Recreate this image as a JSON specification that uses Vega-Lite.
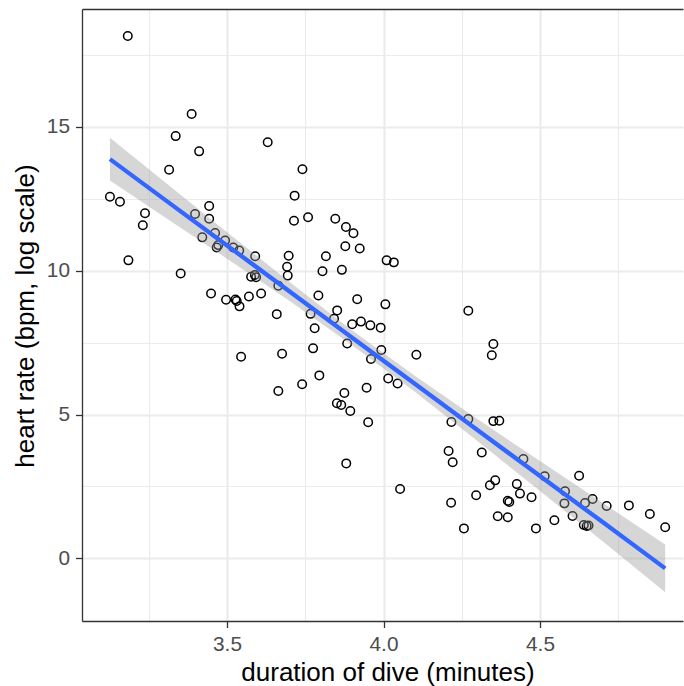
{
  "$schema": "https://vega.github.io/schema/vega-lite/v6.json",
  "width": 601,
  "height": 612,
  "autosize": "none",
  "padding": {"left": 82, "top": 9, "right": 1, "bottom": 65},
  "background": "white",
  "config": {"view": {"stroke": null}, "font": "Liberation Sans"},
  "datasets": {
    "dives": [
      {"duration": 3.183, "heart_rate": 18.16}, {"duration": 3.387, "heart_rate": 15.45}, {"duration": 3.336, "heart_rate": 14.68},
      {"duration": 3.411, "heart_rate": 14.15}, {"duration": 3.315, "heart_rate": 13.51}, {"duration": 3.126, "heart_rate": 12.57},
      {"duration": 3.158, "heart_rate": 12.40}, {"duration": 3.443, "heart_rate": 12.25}, {"duration": 3.238, "heart_rate": 12.00},
      {"duration": 3.398, "heart_rate": 11.97}, {"duration": 3.443, "heart_rate": 11.81}, {"duration": 3.231, "heart_rate": 11.58},
      {"duration": 3.421, "heart_rate": 11.16}, {"duration": 3.462, "heart_rate": 11.31}, {"duration": 3.494, "heart_rate": 11.05},
      {"duration": 3.472, "heart_rate": 10.89}, {"duration": 3.467, "heart_rate": 10.81}, {"duration": 3.520, "heart_rate": 10.81},
      {"duration": 3.539, "heart_rate": 10.70}, {"duration": 3.185, "heart_rate": 10.36}, {"duration": 3.352, "heart_rate": 9.90},
      {"duration": 3.449, "heart_rate": 9.21}, {"duration": 3.497, "heart_rate": 8.99}, {"duration": 3.527, "heart_rate": 9.00},
      {"duration": 3.531, "heart_rate": 8.95}, {"duration": 3.540, "heart_rate": 8.76}, {"duration": 3.545, "heart_rate": 7.01},
      {"duration": 3.630, "heart_rate": 14.47}, {"duration": 3.741, "heart_rate": 13.53}, {"duration": 3.716, "heart_rate": 12.61},
      {"duration": 3.714, "heart_rate": 11.74}, {"duration": 3.759, "heart_rate": 11.86}, {"duration": 3.846, "heart_rate": 11.81},
      {"duration": 3.880, "heart_rate": 11.52}, {"duration": 3.904, "heart_rate": 11.30}, {"duration": 3.878, "heart_rate": 10.85},
      {"duration": 3.924, "heart_rate": 10.77}, {"duration": 4.010, "heart_rate": 10.36}, {"duration": 4.033, "heart_rate": 10.29},
      {"duration": 3.816, "heart_rate": 10.50}, {"duration": 3.697, "heart_rate": 10.52}, {"duration": 3.692, "heart_rate": 10.14},
      {"duration": 3.694, "heart_rate": 9.83}, {"duration": 3.805, "heart_rate": 9.98}, {"duration": 3.867, "heart_rate": 10.03},
      {"duration": 3.590, "heart_rate": 10.50}, {"duration": 3.577, "heart_rate": 9.79}, {"duration": 3.589, "heart_rate": 9.85},
      {"duration": 3.593, "heart_rate": 9.77}, {"duration": 3.664, "heart_rate": 9.48}, {"duration": 3.570, "heart_rate": 9.10},
      {"duration": 3.609, "heart_rate": 9.21}, {"duration": 3.792, "heart_rate": 9.14}, {"duration": 3.916, "heart_rate": 9.01},
      {"duration": 4.006, "heart_rate": 8.83}, {"duration": 3.852, "heart_rate": 8.62}, {"duration": 3.842, "heart_rate": 8.33},
      {"duration": 3.767, "heart_rate": 8.50}, {"duration": 3.659, "heart_rate": 8.49}, {"duration": 3.900, "heart_rate": 8.14},
      {"duration": 3.928, "heart_rate": 8.23}, {"duration": 3.958, "heart_rate": 8.10}, {"duration": 3.991, "heart_rate": 8.02},
      {"duration": 3.780, "heart_rate": 8.00}, {"duration": 3.884, "heart_rate": 7.47}, {"duration": 3.775, "heart_rate": 7.30},
      {"duration": 3.676, "heart_rate": 7.11}, {"duration": 3.993, "heart_rate": 7.24}, {"duration": 3.960, "heart_rate": 6.93},
      {"duration": 4.105, "heart_rate": 7.08}, {"duration": 3.795, "heart_rate": 6.36}, {"duration": 3.740, "heart_rate": 6.05},
      {"duration": 3.664, "heart_rate": 5.82}, {"duration": 4.015, "heart_rate": 6.25}, {"duration": 4.045, "heart_rate": 6.08},
      {"duration": 3.946, "heart_rate": 5.93}, {"duration": 3.875, "heart_rate": 5.75}, {"duration": 3.851, "heart_rate": 5.39},
      {"duration": 3.865, "heart_rate": 5.33}, {"duration": 3.894, "heart_rate": 5.12}, {"duration": 3.951, "heart_rate": 4.73},
      {"duration": 4.217, "heart_rate": 4.74}, {"duration": 4.208, "heart_rate": 3.73}, {"duration": 3.881, "heart_rate": 3.30},
      {"duration": 4.053, "heart_rate": 2.41}, {"duration": 4.221, "heart_rate": 3.34}, {"duration": 4.216, "heart_rate": 1.93},
      {"duration": 4.257, "heart_rate": 1.04}, {"duration": 4.271, "heart_rate": 8.61}, {"duration": 4.351, "heart_rate": 7.45},
      {"duration": 4.346, "heart_rate": 7.06}, {"duration": 4.351, "heart_rate": 4.77}, {"duration": 4.370, "heart_rate": 4.78},
      {"duration": 4.271, "heart_rate": 4.84}, {"duration": 4.314, "heart_rate": 3.68}, {"duration": 4.447, "heart_rate": 3.45},
      {"duration": 4.515, "heart_rate": 2.85}, {"duration": 4.625, "heart_rate": 2.87}, {"duration": 4.357, "heart_rate": 2.71},
      {"duration": 4.340, "heart_rate": 2.54}, {"duration": 4.426, "heart_rate": 2.58}, {"duration": 4.436, "heart_rate": 2.25},
      {"duration": 4.473, "heart_rate": 2.12}, {"duration": 4.580, "heart_rate": 2.33}, {"duration": 4.296, "heart_rate": 2.19},
      {"duration": 4.397, "heart_rate": 2.00}, {"duration": 4.402, "heart_rate": 1.96}, {"duration": 4.578, "heart_rate": 1.91},
      {"duration": 4.644, "heart_rate": 1.92}, {"duration": 4.668, "heart_rate": 2.06}, {"duration": 4.713, "heart_rate": 1.82},
      {"duration": 4.784, "heart_rate": 1.84}, {"duration": 4.851, "heart_rate": 1.54}, {"duration": 4.900, "heart_rate": 1.08},
      {"duration": 4.365, "heart_rate": 1.46}, {"duration": 4.397, "heart_rate": 1.43}, {"duration": 4.546, "heart_rate": 1.32},
      {"duration": 4.604, "heart_rate": 1.47}, {"duration": 4.487, "heart_rate": 1.04}, {"duration": 4.640, "heart_rate": 1.16},
      {"duration": 4.649, "heart_rate": 1.12}, {"duration": 4.655, "heart_rate": 1.14}
    ],
    "fit": [
      {"duration": 3.126, "fitted": 13.88, "lower": 13.14, "upper": 14.62},
      {"duration": 3.3, "fitted": 12.48, "lower": 11.87, "upper": 13.09},
      {"duration": 3.5, "fitted": 10.88, "lower": 10.42, "upper": 11.34},
      {"duration": 3.7, "fitted": 9.28, "lower": 8.95, "upper": 9.61},
      {"duration": 3.9, "fitted": 7.67, "lower": 7.41, "upper": 7.92},
      {"duration": 4.1, "fitted": 6.07, "lower": 5.79, "upper": 6.35},
      {"duration": 4.3, "fitted": 4.46, "lower": 4.08, "upper": 4.84},
      {"duration": 4.5, "fitted": 2.86, "lower": 2.34, "upper": 3.38},
      {"duration": 4.7, "fitted": 1.26, "lower": 0.59, "upper": 1.93},
      {"duration": 4.9, "fitted": -0.35, "lower": -1.18, "upper": 0.48}
    ]
  },
  "resolve": {"axis": {"x": "independent"}},
  "layer": [
    {
      "data": {"name": "dives"},
      "mark": {"type": "point", "shape": "circle", "filled": false, "stroke": "black", "strokeWidth": 1.5, "size": 72, "opacity": 1},
      "encoding": {
        "x": {
          "field": "duration", "type": "quantitative",
          "scale": {"domain": [3.0367, 4.9569], "nice": false, "zero": false},
          "axis": {
            "title": "duration of dive (minutes)",
            "values": [3.25, 3.5, 3.75, 4.0, 4.25, 4.5, 4.75],
            "labelExpr": "abs(datum.value * 2 - round(datum.value * 2)) > 0.01 ? '' : format(datum.value, '.1f')",
            "labelFont": "Liberation Sans", "labelFontSize": 20.8, "labelColor": "#4D4D4D", "labelPadding": 7,
            "labelFlush": false, "labelOverlap": false,
            "tickColor": "#333333", "tickWidth": 1.3, "tickSize": 6.5,
            "tickOpacity": {"condition": {"test": "abs(datum.value * 2 - round(datum.value * 2)) > 0.01", "value": 0}, "value": 1},
            "domainColor": "#333333", "domainWidth": 1.3,
            "grid": true, "gridColor": "#EBEBEB",
            "gridWidth": {"condition": {"test": "abs(datum.value * 2 - round(datum.value * 2)) > 0.01", "value": 1.1}, "value": 2.1},
            "titleFont": "Liberation Sans", "titleFontSize": 26, "titleFontWeight": "normal", "titleColor": "black",
            "titleBaseline": "alphabetic", "titleX": 305.5, "titleY": 59.5, "titleAlign": "center"
          }
        },
        "y": {
          "field": "heart_rate", "type": "quantitative",
          "scale": {"domain": [-2.18, 19.1], "nice": false, "zero": false},
          "axis": {
            "title": "heart rate (bpm, log scale)",
            "values": [0, 2.5, 5, 7.5, 10, 12.5, 15, 17.5],
            "labelExpr": "datum.value % 5 != 0 ? '' : format(datum.value, 'd')",
            "labelFont": "Liberation Sans", "labelFontSize": 20.8, "labelColor": "#4D4D4D", "labelPadding": 6,
            "labelFlush": false, "labelOverlap": false,
            "tickColor": "#333333", "tickWidth": 1.3, "tickSize": 6.5,
            "tickOpacity": {"condition": {"test": "datum.value % 5 != 0", "value": 0}, "value": 1},
            "domainColor": "#333333", "domainWidth": 1.3,
            "grid": true, "gridColor": "#EBEBEB",
            "gridWidth": {"condition": {"test": "datum.value % 5 != 0", "value": 1.1}, "value": 2.1},
            "titleFont": "Liberation Sans", "titleFontSize": 26, "titleFontWeight": "normal", "titleColor": "black",
            "titleBaseline": "alphabetic", "titleAngle": -90, "titleX": -48.7, "titleY": 306.5, "titleAlign": "center"
          }
        }
      }
    },
    {
      "data": {"name": "fit"},
      "mark": {"type": "area", "color": "#999999", "opacity": 0.4},
      "encoding": {
        "x": {"field": "duration", "type": "quantitative", "axis": null},
        "y": {"field": "lower", "type": "quantitative"},
        "y2": {"field": "upper"}
      }
    },
    {
      "data": {"name": "fit"},
      "mark": {"type": "line", "color": "#3366FF", "strokeWidth": 4.3},
      "encoding": {
        "x": {
          "field": "duration", "type": "quantitative",
          "axis": {"orient": "top", "labels": false, "ticks": false, "grid": false, "title": null, "domain": true, "domainColor": "#333333", "domainWidth": 1.3}
        },
        "y": {"field": "fitted", "type": "quantitative"}
      }
    }
  ]
}
